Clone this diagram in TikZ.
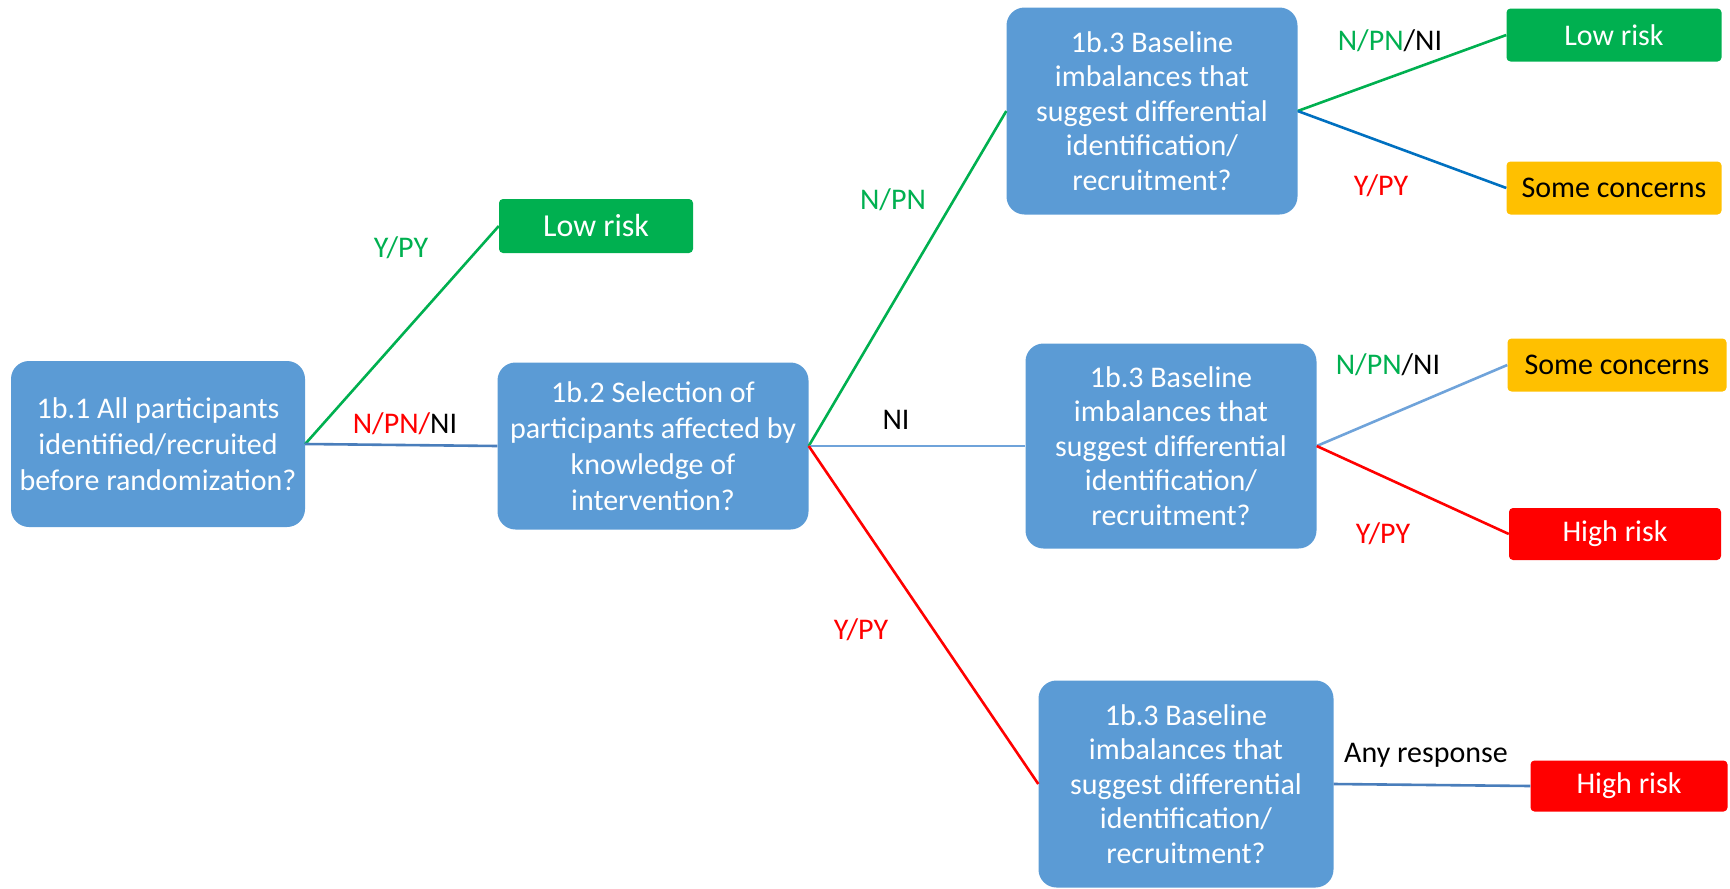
\documentclass[tikz,border=0pt]{standalone}
\usepackage{fontspec}
\setmainfont{Carlito}
\definecolor{qblue}{HTML}{5B9BD5}
\definecolor{rgreen}{HTML}{00B050}
\definecolor{rorange}{HTML}{FFC000}
\definecolor{rred}{HTML}{FF0000}
\definecolor{lblue}{HTML}{4A7EBB}
\definecolor{lblue2}{HTML}{6FA3DA}
\definecolor{dblue}{HTML}{0070C0}
\begin{document}
\begin{tikzpicture}[x=1pt,y=-1pt,
  qbox/.style={fill=qblue, rounded corners=18pt, text=white, align=center, inner sep=0pt,
    font=\fontsize{30}{36}\selectfont},
  q3box/.style={qbox, font=\fontsize{30}{34.5}\selectfont},
  rbox/.style={rounded corners=4pt, align=center, inner sep=0pt,
    font=\fontsize{30}{36}\selectfont},
  lowbox/.style={rbox, fill=rgreen, text=white},
  somebox/.style={rbox, fill=rorange, text=black},
  highbox/.style={rbox, fill=rred, text=white},
  lab/.style={font=\fontsize{30}{36}\selectfont, inner sep=0pt},
  conn/.style={line width=2.6pt}
]
\useasboundingbox (0,0) rectangle (1730,889);

% question boxes
\node[qbox, minimum width=294pt, minimum height=166pt] (q1) at (158,444)
  {1b.1 All participants\\identified/recruited\\before randomization?};
\node[qbox, minimum width=311pt, minimum height=167pt] (q2) at (653,446)
  {1b.2 Selection of\\participants affected by\\knowledge of\\intervention?};
\node[q3box, minimum width=291pt, minimum height=207pt] (q3a) at (1152,111)
  {1b.3 Baseline\\imbalances that\\suggest differential\\identification/\\recruitment?};
\node[q3box, minimum width=291pt, minimum height=205pt] (q3b) at (1171,446)
  {1b.3 Baseline\\imbalances that\\suggest differential\\identification/\\recruitment?};
\node[q3box, minimum width=295pt, minimum height=207pt] (q3c) at (1186,784)
  {1b.3 Baseline\\imbalances that\\suggest differential\\identification/\\recruitment?};

% outcome boxes
\node[lowbox, minimum width=194pt, minimum height=54pt, font=\fontsize{32}{36}\selectfont] (low1) at (596,226) {Low risk};
\node[lowbox, minimum width=215pt, minimum height=53pt] (lowa) at (1614,35) {Low risk};
\node[somebox, minimum width=215pt, minimum height=53pt] (somea) at (1614,188) {Some concerns};
\node[somebox, minimum width=219pt, minimum height=53pt] (someb) at (1617,365) {Some concerns};
\node[highbox, minimum width=212pt, minimum height=52pt] (highb) at (1615,534) {High risk};
\node[highbox, minimum width=197pt, minimum height=51pt] (highc) at (1629,786) {High risk};

% connectors
\draw[conn, rgreen] (q1.east) -- (low1.west);
\draw[conn, lblue] (q1.east) -- (q2.west);
\draw[conn, rgreen] (q2.east) -- (q3a.west);
\draw[conn, lblue2] (q2.east) -- (q3b.west);
\draw[conn, rred] (q2.east) -- (q3c.west);
\draw[conn, rgreen] (q3a.east) -- (lowa.west);
\draw[conn, dblue] (q3a.east) -- (somea.west);
\draw[conn, lblue2] (q3b.east) -- (someb.west);
\draw[conn, rred] (q3b.east) -- (highb.west);
\draw[conn, lblue] (q3c.east) -- (highc.west);

% labels
\node[lab, text=rgreen] (l1) at (401,248) {Y/PY};
\node[lab] (l2) at (405,424) {\textcolor{rred}{N/PN/}NI};
\node[lab, text=rgreen] (l3) at (893,200) {N/PN};
\node[lab] (l4) at (896,420) {NI};
\node[lab, text=rred] (l5) at (861,630) {Y/PY};
\node[lab] (l6) at (1390,41) {\textcolor{rgreen}{N/PN}/NI};
\node[lab, text=rred] (l7) at (1381,186) {Y/PY};
\node[lab] (l8) at (1388,365) {\textcolor{rgreen}{N/PN}/NI};
\node[lab, text=rred] (l9) at (1383,534) {Y/PY};
\node[lab] (l10) at (1426,755) {Any response};
\end{tikzpicture}
\end{document}
